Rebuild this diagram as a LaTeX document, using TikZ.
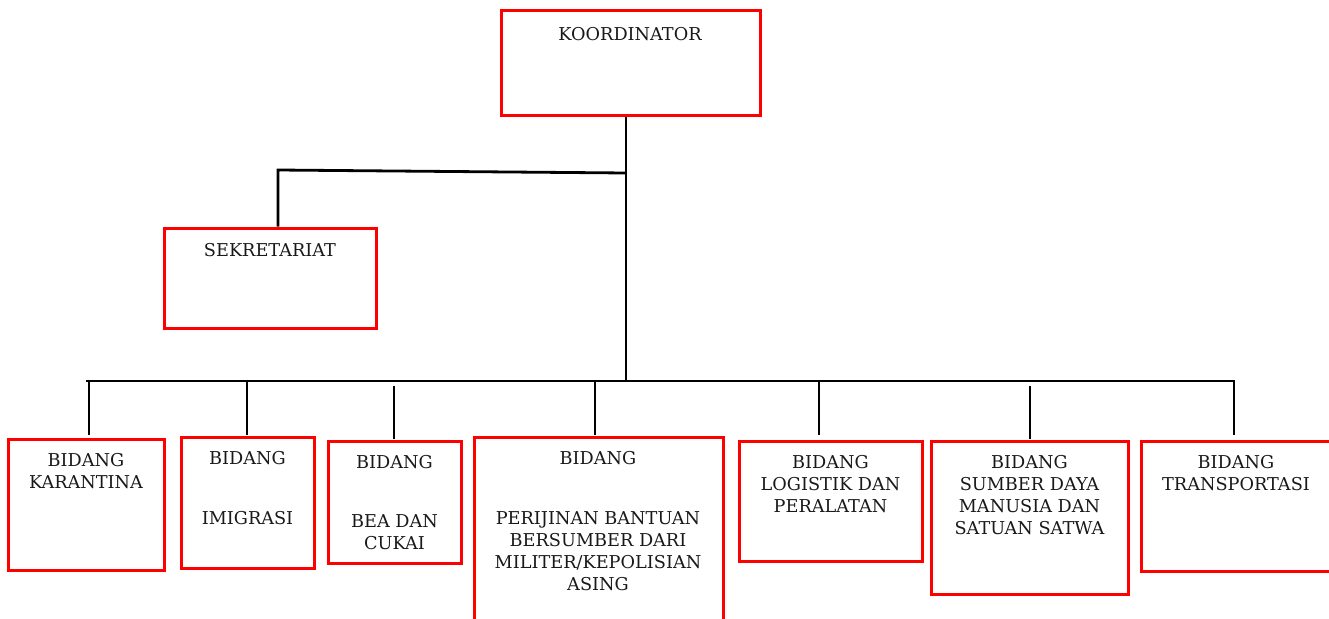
\documentclass[tikz,border=0pt]{standalone}
\usepackage{fontspec}
\setmainfont{DejaVu Serif}
\usetikzlibrary{fit}
\begin{document}
\begin{tikzpicture}[x=1pt,y=-1pt,
  box/.style={draw=red, line width=3pt, inner sep=0pt},
  lbl/.style={font=\fontsize{17.7}{22}\selectfont, align=center, inner sep=0pt, anchor=north, text=black!90},
  conn/.style={line width=2.8pt, draw=black}]
\useasboundingbox (0,0) rectangle (1329,618);
% boxes
\node[box, fit={(501,11) (760,115)}] (koor) {};
\node[box, fit={(164,228) (376,328)}] (sek) {};
\node[box, fit={(8,439) (164,570)}] (b1) {};
\node[box, fit={(181,437) (314,568)}] (b2) {};
\node[box, fit={(328,441) (461,563)}] (b3) {};
\node[box, fit={(474,437) (723,640)}] (b4) {};
\node[box, fit={(739,441) (922,561)}] (b5) {};
\node[box, fit={(931,441) (1128,594)}] (b6) {};
\node[box, fit={(1141,441) (1335,571)}] (b7) {};
% labels
\node[lbl] (t0) at (630,27.5) {KOORDINATOR};
\node[lbl] (ts) at (270,243.5) {SEKRETARIAT};
\node[lbl] (t1) at (86,453.5) {BIDANG\\KARANTINA};
\node[lbl] (t2) at (247.5,451.5) {BIDANG\\[38pt]IMIGRASI};
\node[lbl] (t3) at (394.5,455.5) {BIDANG\\[37pt]BEA DAN\\CUKAI};
\node[lbl] (t4) at (598,451.5) {BIDANG\\[38pt]PERIJINAN BANTUAN\\BERSUMBER DARI\\MILITER/KEPOLISIAN\\ASING};
\node[lbl] (t5) at (830.5,455.5) {BIDANG\\LOGISTIK DAN\\PERALATAN};
\node[lbl] (t6) at (1029.5,455.5) {BIDANG\\SUMBER DAYA\\MANUSIA DAN\\SATUAN SATWA};
\node[lbl] (t7) at (1236,455.5) {BIDANG\\TRANSPORTASI};
% connectors
\coordinate (j0) at (626,381);
\coordinate (s1) at (626,173);
\coordinate (s0) at (278,170);
\coordinate (busL) at (86,381);
\coordinate (busR) at (1234,381);
\coordinate (d1) at (89,381);
\coordinate (d2) at (247,381);
\coordinate (d3) at (394,386);
\coordinate (d4) at (595,381);
\coordinate (d5) at (819,381);
\coordinate (d6) at (1030,386);
\draw[conn] (koor.south -| j0) -- (j0);
\draw[conn] (s1) -- (s0) -- (s0 |- sek.north);
\draw[conn, shorten >=5pt] (busL) -- (busR) -- (busR |- b7.north);
\draw[conn, shorten >=3pt] (d1) -- (d1 |- b1.north);
\draw[conn, shorten >=1pt] (d2) -- (d2 |- b2.north);
\draw[conn, shorten >=1pt] (d3) -- (d3 |- b3.north);
\draw[conn, shorten >=1pt] (d4) -- (d4 |- b4.north);
\draw[conn, shorten >=5pt] (d5) -- (d5 |- b5.north);
\draw[conn, shorten >=1pt] (d6) -- (d6 |- b6.north);
\end{tikzpicture}
\end{document}
